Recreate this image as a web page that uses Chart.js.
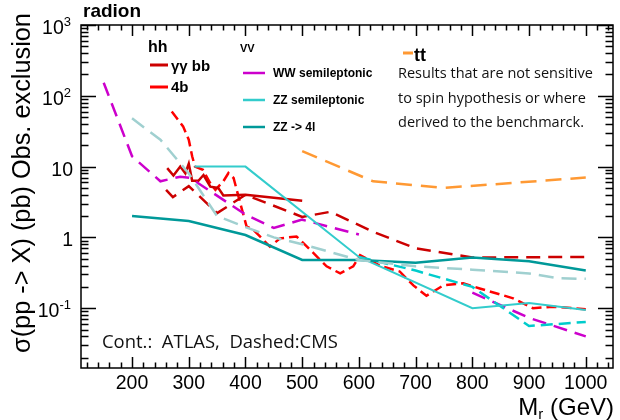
<!DOCTYPE html>
<html>
<head>
<meta charset="utf-8">
<script src="https://cdn.jsdelivr.net/npm/chart.js@4.4.1/dist/chart.umd.min.js"></script>
<style>
html, body { margin: 0; padding: 0; background: #fff; }
canvas { display: block; }
</style>
</head>
<body>
<canvas id="chart" width="620" height="420"></canvas>
<script>
const xTickValues = [200, 300, 400, 500, 600, 700, 800, 900, 1000];
const yTickValues = [0.1, 1, 10, 100, 1000];
const yTickLabels = [['10', '-1'], ['1', ''], ['10', ''], ['10', '2'], ['10', '3']];

// [mass (GeV), cross section (pb)]
const wwSemilepCms = [[150, 153], [200, 14], [250, 6.2], [285, 7.2], [303, 6.9], [400, 2.1], [450, 1.36], [500, 1.78], [600, 1.1]];
const wwSemilepCmsHigh = [[800, 0.166], [900, 0.073], [1000, 0.04]];
const zz4lCms = [[200, 48], [250, 24], [300, 8], [350, 2.0], [400, 1.4], [450, 1.0], [500, 0.8], [600, 0.48], [700, 0.39], [800, 0.35], [900, 0.31], [950, 0.265], [1000, 0.26]];
const ttCms = [[500, 16.5], [625, 6.2], [750, 5.0], [1000, 7.0]];
const zzSemilepAtlas = [[310, 10], [400, 10], [600, 0.53], [800, 0.1], [900, 0.118], [1000, 0.094]];
const zzSemilepCms = [[600, 0.53], [700, 0.34], [800, 0.2], [900, 0.056], [1000, 0.064]];
const zz4lAtlas = [[200, 2.0], [300, 1.7], [400, 1.08], [500, 0.48], [600, 0.48], [700, 0.44], [800, 0.52], [900, 0.46], [1000, 0.34]];
const ggbbAtlas = [[262, 9.5], [273, 7.5], [285, 10], [294, 8], [300, 11], [306, 6.3], [317, 6.3], [326, 7.6], [338, 5.2], [352, 5.0], [361, 3.9], [400, 4.0], [500, 3.3]];
const ggbbCms = [[260, 4.7], [272, 3.7], [300, 5.3], [350, 2.2], [400, 4.0], [500, 1.95], [550, 2.3], [625, 1.2], [700, 0.7], [800, 0.52], [1000, 0.53]];
const fourbCms = [[270, 60], [290, 37], [300, 24], [306, 14], [311, 10], [325, 9], [338, 5.8], [347, 4.7], [361, 6.2], [370, 8.1], [379, 6.9], [391, 3.0], [402, 1.42], [414, 1.28], [443, 0.74], [461, 0.97], [490, 1.03], [520, 0.6], [543, 0.39], [567, 0.31], [590, 0.39], [602, 0.56], [637, 0.4], [672, 0.33], [696, 0.21], [719, 0.15], [749, 0.21], [784, 0.225], [813, 0.19], [872, 0.138], [907, 0.1], [942, 0.105], [1000, 0.097]];

const X_MIN = 110, X_MAX = 1048;
const Y_MIN = 0.0143, Y_MAX = 1000;

function series(points, color, width, dash) {
    return {
        data: points.map(p => ({ x: p[0], y: p[1] })),
        borderColor: color,
        borderWidth: width,
        borderDash: dash,
        pointRadius: 0,
        fill: false,
        tension: 0
    };
}

function fitFont(ctx, text, weight, family, width) {
    ctx.font = `${weight} 100px ${family}`;
    return 100 * width / ctx.measureText(text).width;
}

const framePlugin = {
    id: 'frame',
    afterDraw(chart) {
        const ctx = chart.ctx;
        const a = chart.chartArea;
        const xs = chart.scales.x;
        const ys = chart.scales.y;
        ctx.save();
        ctx.strokeStyle = '#000';
        ctx.lineWidth = 1.5;
        ctx.strokeRect(a.left, a.top, a.right - a.left, a.bottom - a.top);

        ctx.beginPath();
        for (let v = 120; v <= X_MAX; v += 20) {
            const px = Math.round(xs.getPixelForValue(v)) + 0.5;
            const len = v % 100 == 0 ? 11 : 5.5;
            ctx.moveTo(px, a.bottom); ctx.lineTo(px, a.bottom - len);
            ctx.moveTo(px, a.top); ctx.lineTo(px, a.top + len);
        }
        for (let e = -2; e <= 3; e++) {
            for (let m = 1; m <= 9; m++) {
                const v = m * Math.pow(10, e);
                if (v < Y_MIN || v > Y_MAX * 1.0001) continue;
                const py = Math.round(ys.getPixelForValue(v)) + 0.5;
                const len = m == 1 ? 15 : 7.5;
                ctx.moveTo(a.left, py); ctx.lineTo(a.left + len, py);
                ctx.moveTo(a.right, py); ctx.lineTo(a.right - len, py);
            }
        }
        ctx.stroke();

        // y tick labels with superscripts
        ctx.fillStyle = '#000';
        ctx.textBaseline = 'alphabetic';
        yTickValues.forEach((v, i) => {
            const py = ys.getPixelForValue(v);
            const [base, sup] = yTickLabels[i];
            ctx.font = '13px "Liberation Sans"';
            const supW = sup ? ctx.measureText(sup).width : 0;
            ctx.font = '19.5px "Liberation Sans"';
            const baseW = ctx.measureText(base).width;
            const right = sup ? 71 : 73;
            ctx.textAlign = 'left';
            ctx.fillText(base, right - supW - baseW, py + 9);
            if (sup) {
                ctx.font = '13px "Liberation Sans"';
                ctx.fillText(sup, right - supW, py + 1);
            }
        });

        // axis titles
        ctx.textAlign = 'left';
        ctx.font = '24px "Liberation Sans"';
        const mW = ctx.measureText('M').width;
        const tail = ' (GeV)';
        const tailW = ctx.measureText(tail).width;
        ctx.font = '15px "Liberation Sans"';
        const rW = ctx.measureText('r').width;
        let x0 = 614 - mW - rW - tailW;
        ctx.font = '24px "Liberation Sans"';
        ctx.fillText('M', x0, 415);
        ctx.font = '15px "Liberation Sans"';
        ctx.fillText('r', x0 + mW, 419);
        ctx.font = '24px "Liberation Sans"';
        ctx.fillText(tail, x0 + mW + rW, 415);

        const yTitle = 'σ(pp -> X) (pb) Obs. exclusion';
        const ySize = fitFont(ctx, yTitle, 'normal', '"Liberation Sans"', 340);
        ctx.save();
        ctx.translate(23, 183);
        ctx.rotate(-Math.PI / 2);
        ctx.font = `${ySize}px "Liberation Sans"`;
        ctx.textAlign = 'center';
        ctx.textBaseline = 'middle';
        ctx.fillText(yTitle, 0, 0);
        ctx.restore();

        // header and legend
        ctx.textAlign = 'left';
        ctx.textBaseline = 'alphabetic';
        ctx.font = 'bold 19px "Liberation Sans"';
        ctx.fillText('radion', 83, 17);

        ctx.font = 'bold 16px "Liberation Sans"';
        ctx.fillText('hh', 148, 52);
        ctx.font = 'bold 15px "Liberation Sans"';
        ctx.fillText('γγ bb', 171, 71);
        ctx.fillText('4b', 171, 92);
        ctx.font = 'bold 11px "Liberation Sans"';
        ctx.fillText('VV', 240, 52);
        ctx.font = 'bold 12px "Liberation Sans"';
        ctx.fillText('WW semileptonic', 273, 77);
        ctx.fillText('ZZ semileptonic', 273, 104);
        ctx.fillText('ZZ -> 4l', 273, 131);
        ctx.font = 'bold 18px "Liberation Sans"';
        ctx.fillText('tt', 414, 61);

        const legendLines = [
            [150, 168, 65, '#cc0000', 3],
            [150, 168, 87, '#ff0000', 3],
            [243, 265, 73, '#cc00cc', 2.5],
            [243, 265, 100, '#33cccc', 2.5],
            [243, 265, 127, '#009999', 2.5],
            [403, 413, 53, '#ff9933', 3]
        ];
        legendLines.forEach(([x1, x2, y, c, w]) => {
            ctx.strokeStyle = c;
            ctx.lineWidth = w;
            ctx.beginPath();
            ctx.moveTo(x1, y); ctx.lineTo(x2, y);
            ctx.stroke();
        });

        ctx.fillStyle = '#111';
        const note = ['Results that are not sensitive', 'to spin hypothesis or where', 'derived to the benchmarck.'];
        const noteSize = fitFont(ctx, note[0], 'normal', '"Open Sans"', 195);
        ctx.font = `${noteSize}px "Open Sans"`;
        ctx.fillText(note[0], 398, 78);
        ctx.fillText(note[1], 398, 103);
        ctx.fillText(note[2], 398, 127);

        const cont = 'Cont.:  ATLAS,  Dashed:CMS';
        const contSize = fitFont(ctx, cont, 'normal', '"Open Sans"', 236);
        ctx.font = `${contSize}px "Open Sans"`;
        ctx.fillText(cont, 102, 348);
        ctx.restore();
    }
};

new Chart(document.getElementById('chart'), {
    type: 'line',
    data: {
        datasets: [
            series(zz4lCms, '#a0d0d0', 2.5, [15, 8]),
            series(zz4lAtlas, '#009999', 2.5, []),
            series(ttCms, '#ff9933', 2.5, [16, 9]),
            series(zzSemilepAtlas, '#33cccc', 2, []),
            series(zzSemilepCms, '#00cccc', 2.5, [12, 6]),
            series(wwSemilepCms, '#cc00cc', 2.5, [14, 8]),
            series(wwSemilepCmsHigh, '#cc00cc', 2.5, [14, 8]),
            series(ggbbAtlas, '#cc0000', 2.5, []),
            series(ggbbCms, '#cc0000', 2.5, [14, 8]),
            series(fourbCms, '#ff0000', 2.5, [10, 5])
        ]
    },
    options: {
        responsive: false,
        devicePixelRatio: 1,
        animation: false,
        layout: { padding: { left: 0, top: 25, right: 7, bottom: 0 } },
        plugins: { legend: { display: false }, tooltip: { enabled: false } },
        scales: {
            x: {
                type: 'linear',
                min: X_MIN,
                max: X_MAX,
                grid: { display: false },
                border: { display: false },
                afterBuildTicks: s => { s.ticks = xTickValues.map(v => ({ value: v })); },
                afterFit: s => { s.height = 52; },
                ticks: {
                    autoSkip: false,
                    maxRotation: 0,
                    padding: -4,
                    color: '#000',
                    font: { family: '"Liberation Sans"', size: 19.5 },
                    callback: v => String(v)
                }
            },
            y: {
                type: 'logarithmic',
                min: Y_MIN,
                max: Y_MAX,
                grid: { display: false },
                border: { display: false },
                afterBuildTicks: s => { s.ticks = yTickValues.map(v => ({ value: v })); },
                afterFit: s => { s.width = 81; },
                ticks: { display: false }
            }
        }
    },
    plugins: [framePlugin]
});
</script>
</body>
</html>
